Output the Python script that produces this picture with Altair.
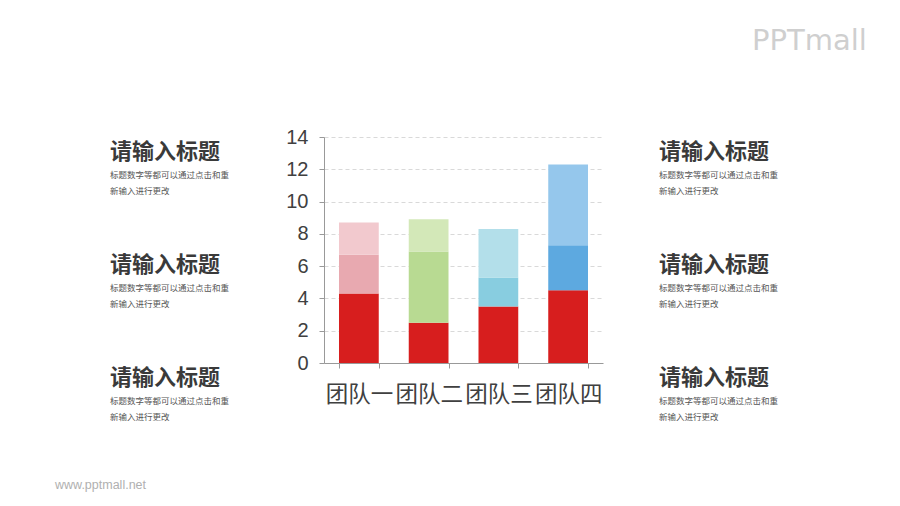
import altair as alt
import pandas as pd

teams = ["团队一", "团队二", "团队三", "团队四"]
seg_base = [4.3, 2.5, 3.5, 4.5]
seg_mid = [2.4, 4.4, 1.8, 2.8]
seg_top = [2.0, 2.0, 3.0, 5.0]
colors_base = ["#D71E1E", "#D71E1E", "#D71E1E", "#D71E1E"]
colors_mid = ["#E8A9B0", "#B8DA92", "#88CDE0", "#5DA9E0"]
colors_top = ["#F2C9CE", "#D3E8B8", "#B3DFEA", "#95C7EC"]

title_text = "请输入标题"
sub_line1 = "标题数字等都可以通过点击和重"
sub_line2 = "新输入进行更改"
logo_text = "PPTmall"
footer_text = "www.pptmall.net"

rows = []
domain, rng = [], []
for i, t in enumerate(teams):
    for j, (vals, cols) in enumerate([(seg_base, colors_base), (seg_mid, colors_mid), (seg_top, colors_top)]):
        key = f"{t}-{j}"
        rows.append({"team": t, "value": vals[i], "key": key, "order": j})
        domain.append(key)
        rng.append(cols[i])
df = pd.DataFrame(rows)

FONT = "Noto Sans CJK SC"

bars = alt.Chart(df).mark_bar().encode(
    x=alt.X("team:N", sort=teams, title=None,
            scale=alt.Scale(paddingInner=0.43, paddingOuter=0.215),
            axis=alt.Axis(labelAngle=0, labelFontSize=22.5, labelColor="#404040", labelFont=FONT,
                          labelPadding=15, tickBand="extent", tickSize=5, tickColor="#999999",
                          domainColor="#999999", grid=False)),
    y=alt.Y("value:Q", title=None, stack="zero",
            scale=alt.Scale(domain=[0, 14]),
            axis=alt.Axis(values=[0, 2, 4, 6, 8, 10, 12, 14], labelFontSize=20, labelColor="#404040",
                          labelFont="Liberation Sans", tickSize=5, tickColor="#999999",
                          domainColor="#999999", gridColor="#d9d9d9", gridDash=[4, 3],
                          labelPadding=11)),
    color=alt.Color("key:N", scale=alt.Scale(domain=domain, range=rng), legend=None),
    order=alt.Order("order:Q"),
)

OX, OY = 324, 137  # plot origin in page coords


def txt(text, px, py, size, color, weight="normal", font=FONT, align="left"):
    return alt.Chart(pd.DataFrame({"t": [text]})).mark_text(
        align=align, baseline="middle", fontSize=size, color=color, fontWeight=weight, font=font
    ).encode(text="t:N", x=alt.value(px - OX), y=alt.value(py - OY))


layers = [bars]
for lx in [110, 659]:
    for ty in [152, 265, 378]:
        layers.append(txt(title_text, lx, ty, 22, "#3a3a3a", weight="bold"))
        layers.append(txt(sub_line1, lx, ty + 23, 8.5, "#555555"))
        layers.append(txt(sub_line2, lx, ty + 39, 8.5, "#555555"))
layers.append(txt(logo_text, 752, 41, 29, "#cfcfcf", font="DejaVu Sans"))
layers.append(txt(footer_text, 55, 485, 12.5, "#b0b0b0", font="Liberation Sans"))

chart = alt.layer(*layers).properties(
    width=279, height=226,
    autosize=alt.AutoSizeParams(type="none"),
    padding={"left": 316, "top": 129, "right": 289, "bottom": 135},
    background="white",
).configure_view(stroke=None)

chart.save("out.html", embed_options={"renderer": "svg", "actions": False})
